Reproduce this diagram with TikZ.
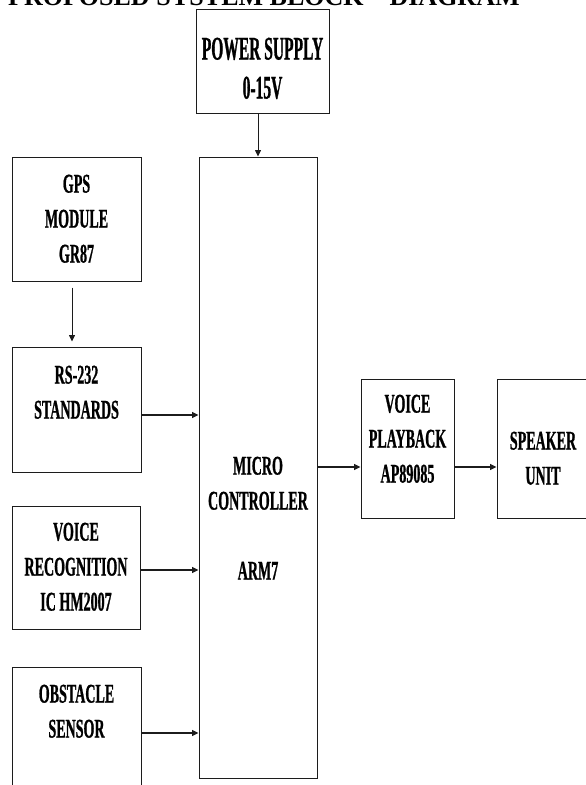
\documentclass[tikz,border=0pt]{standalone}
\usepackage{fontspec}
\setmainfont{Liberation Serif}
\newfontfamily\blockfont{Liberation Serif}[FakeStretch=0.52, FakeBold=0.8]
\newfontfamily\supplyfont{Liberation Serif}[FakeStretch=0.47, FakeBold=0.8]
\usetikzlibrary{arrows.meta, positioning}
\definecolor{ink}{HTML}{1C1C1C}
\tikzset{
  blk/.style={draw=ink, line width=1pt, inner sep=0pt},
  lbl/.style={anchor=north, inner sep=0pt, align=center, font=\blockfont\bfseries\fontsize{27}{35}\selectfont},
  arr/.style={ink, line width=1.2pt, -{Triangle[length=6.5pt,width=6pt]}},
  thinarr/.style={arr, line width=0.8pt}
}

\begin{document}
\begin{tikzpicture}[x=1pt, y=-1pt]
  \useasboundingbox (0,0) rectangle (586,785);
  \node[anchor=base west, inner sep=0pt, font=\bfseries\fontsize{26}{30}\selectfont] (title) at (8,5) {PROPOSED SYSTEM BLOCK – DIAGRAM};

  % blocks
  \node[blk, minimum width=133pt, minimum height=104pt] (psu) at (262.5,61) {};
  \node[blk, minimum width=118pt, minimum height=621pt] (micro) at (258,467.5) {};
  \node[blk, minimum width=129pt, minimum height=124pt] (gps) at (76.5,219) {};
  \node[blk, minimum width=129pt, minimum height=125pt] (rs) at (76.5,409.5) {};
  \node[blk, minimum width=128pt, minimum height=123pt] (vr) at (76,567.5) {};
  \node[blk, minimum width=129pt, minimum height=124pt] (obs) at (76.5,729) {};
  \node[blk, minimum width=93pt, minimum height=139pt] (vp) at (407.5,448.5) {};
  \node[blk, minimum width=92pt, minimum height=139pt] (spk) at (543,448.5) {};

  % texts
  \node[lbl, font=\supplyfont\bfseries\fontsize{33}{39}\selectfont, below=29pt of psu.north] (psu-t) {POWER SUPPLY\\0-15V};
  \node[lbl, below=300pt of micro.north] (micro-t) {MICRO\\CONTROLLER\\[35pt]ARM7};
  \node[lbl, below=18pt of gps.north] (gps-t) {GPS\\MODULE\\GR87};
  \node[lbl, below=19pt of rs.north] (rs-t) {RS-232\\STANDARDS};
  \node[lbl, below=17pt of vr.north] (vr-t) {VOICE\\RECOGNITION\\IC HM2007};
  \node[lbl, below=18pt of obs.north] (obs-t) {OBSTACLE\\SENSOR};
  \node[lbl, below=16pt of vp.north] (vp-t) {VOICE\\PLAYBACK\\AP89085};
  \node[lbl, below=53pt of spk.north] (spk-t) {SPEAKER\\UNIT};

  % connections
  \draw[thinarr] (micro.north |- psu.south) -- (micro.north);
  \draw[thinarr] ([xshift=-4.5pt,yshift=-6pt]gps.south) -- ([xshift=-4.5pt,yshift=5pt]rs.north);
  \draw[arr] ([yshift=-5.5pt]rs.east) -- ([yshift=-5.5pt]rs.east -| micro.west);
  \draw[arr] ([yshift=-2.5pt]vr.east) -- ([yshift=-2.5pt]vr.east -| micro.west);
  \draw[arr] ([yshift=-4pt]obs.east) -- ([yshift=-4pt]obs.east -| micro.west);
  \draw[arr] ([yshift=-18.5pt]vp.west -| micro.east) -- ([yshift=-18.5pt]vp.west);
  \draw[arr] ([yshift=-18.5pt]vp.east) -- ([yshift=-18.5pt]spk.west);
\end{tikzpicture}
\end{document}
